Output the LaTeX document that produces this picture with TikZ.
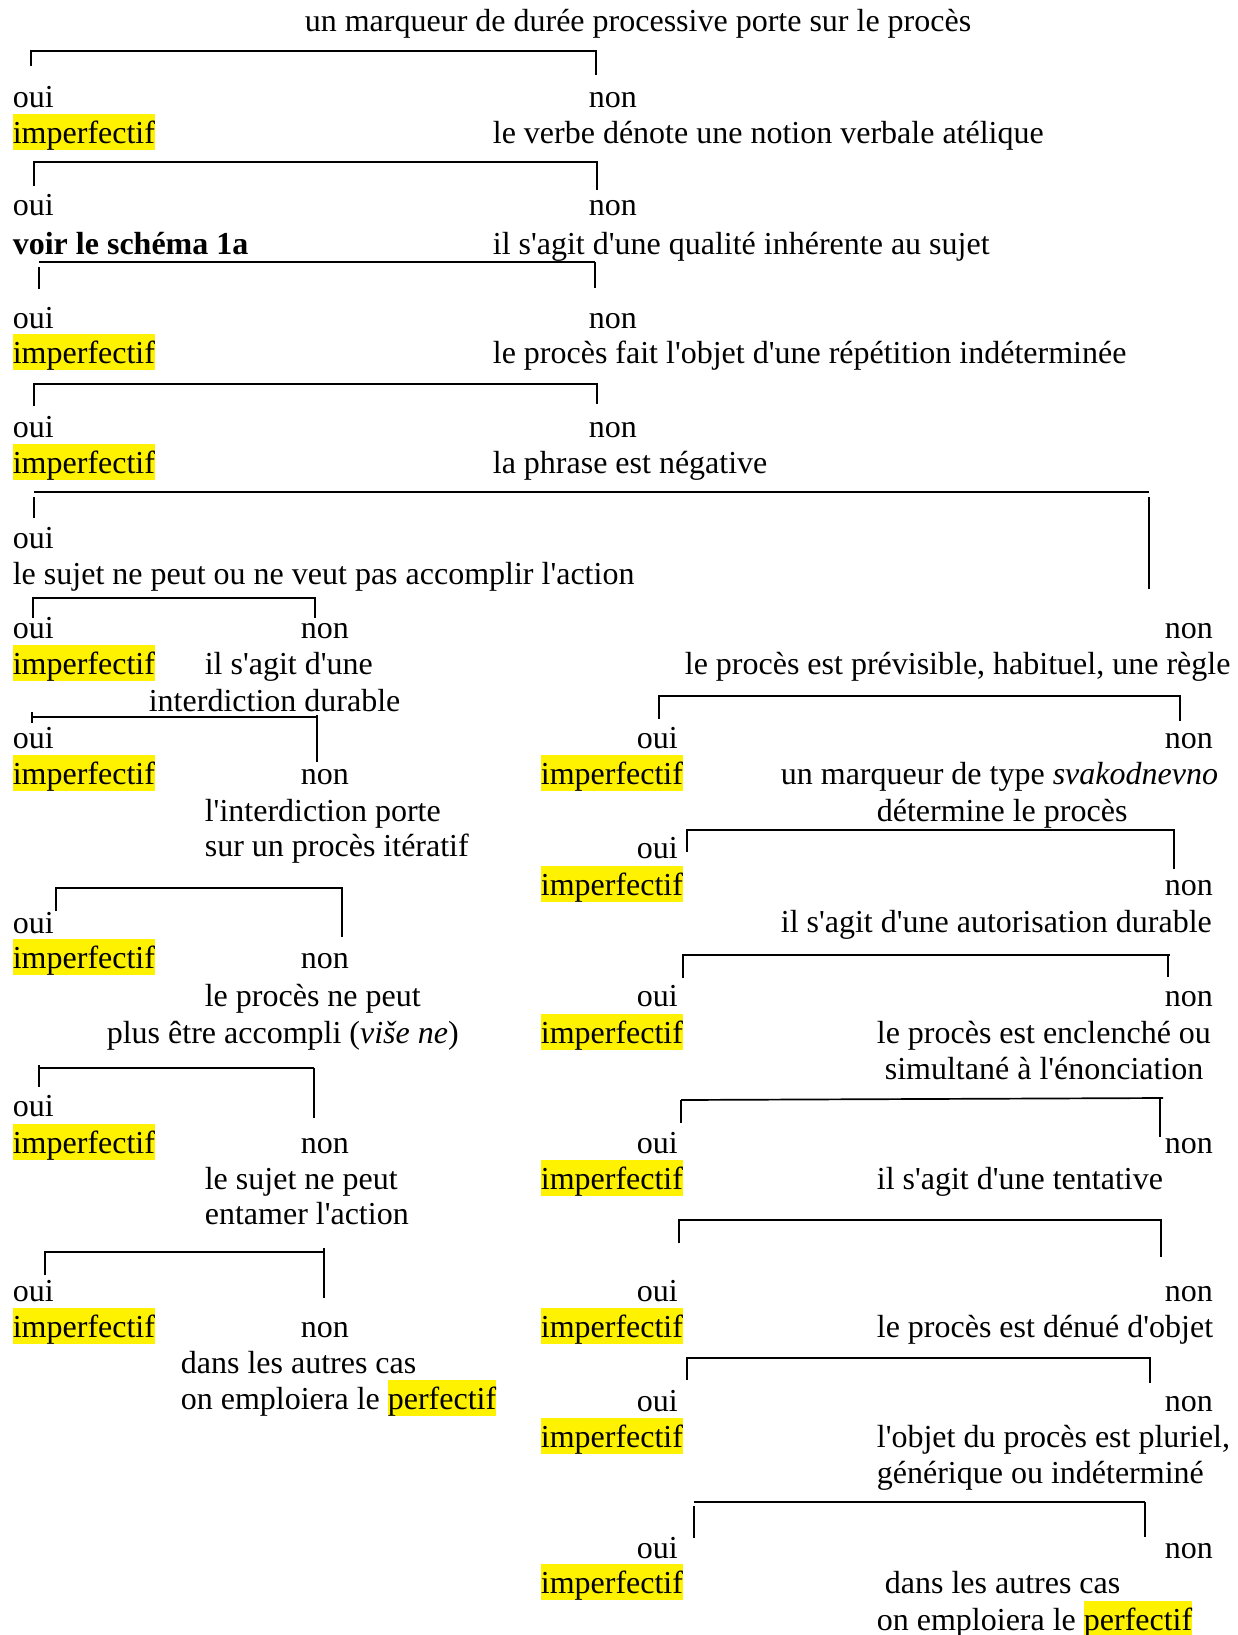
\documentclass[tikz,border=0pt]{standalone}
\usepackage{fontspec}
\setmainfont{Liberation Serif}[Ligatures=TeXOff]
\usepackage{xcolor}
\newcommand{\jaune}[1]{{\setlength{\fboxsep}{0pt}\colorbox{yellow}{\rule[-7pt]{0pt}{35.6pt}#1}}}

\begin{document}
\begin{tikzpicture}[x=1pt,y=-1pt,line width=1.7pt,every node/.style={anchor=base west,inner sep=0pt,font=\fontsize{32}{38}\selectfont}]
\useasboundingbox (0,0) rectangle (1238,1635);

\node[anchor=base] (q1) at (638,32) {un marqueur de durée processive porte sur le procès};
\draw (31,66) -- (31,51) -- (596,51) -- (596,75);
\node (oui1) at (12,108) {oui};
\node (non1) at (588,108) {non};
\node (imp1) at (12,143) {\jaune{imperfectif}};
\node (q2) at (492,143) {le verbe dénote une notion verbale atélique};

\draw (34,186) -- (34,162) -- (597,162) -- (597,190);
\node (oui2) at (12,215) {oui};
\node (non2) at (588,215) {non};
\node (voir) at (12,254) {\textbf{voir le schéma 1a}};
\node (q3) at (492,254) {il s'agit d'une qualité inhérente au sujet};

\draw (39,262) -- (595,262);
\draw (39,267) -- (39,289);
\draw (595,262) -- (595,288);
\node (oui3) at (12,328) {oui};
\node (non3) at (588,328) {non};
\node (imp3) at (12,363) {\jaune{imperfectif}};
\node (q4) at (492,363) {le procès fait l'objet d'une répétition indéterminée};

\draw (34,406) -- (34,384) -- (597,384) -- (597,404);
\node (oui4) at (12,437) {oui};
\node (non4) at (588,437) {non};
\node (imp4) at (12,473) {\jaune{imperfectif}};
\node (q5) at (492,473) {la phrase est négative};

\draw (34,492) -- (1149,492);
\draw (34,497) -- (34,518);
\draw (1149,497) -- (1149,589);
\node (oui5) at (12,548) {oui};
\node (q6) at (12,584) {le sujet ne peut ou ne veut pas accomplir l'action};

\draw (33,618) -- (33,598) -- (315,598) -- (315,618);
\node (oui6) at (12,638) {oui};
\node (non6) at (300,638) {non};
\node (imp6) at (12,674) {\jaune{imperfectif}};
\node (q7a) at (204,674) {il s'agit d'une};
\node (q7b) at (148,711) {interdiction durable};

\draw (32,717) -- (317,717);
\draw (32,712) -- (32,723);
\draw (317,715) -- (317,762);
\node (oui7) at (12,748) {oui};
\node (imp7) at (12,784) {\jaune{imperfectif}};
\node (non7) at (300,784) {non};
\node (q8a) at (204,821) {l'interdiction porte};
\node (q8b) at (204,856) {sur un procès itératif};

\draw (56,911) -- (56,888) -- (342,888) -- (342,937);
\node (oui8) at (12,933) {oui};
\node (imp8) at (12,968) {\jaune{imperfectif}};
\node (non8) at (300,968) {non};
\node (q9a) at (204,1006) {le procès ne peut};
\node (q9b) at (106,1043) {plus être accompli (\textit{više ne})};

\draw (39,1068) -- (314,1068);
\draw (39,1065) -- (39,1087);
\draw (314,1068) -- (314,1118);
\node (oui9) at (12,1116) {oui};
\node (imp9) at (12,1153) {\jaune{imperfectif}};
\node (non9) at (300,1153) {non};
\node (q10a) at (204,1189) {le sujet ne peut};
\node (q10b) at (204,1224) {entamer l'action};

\draw (45,1275) -- (45,1252) -- (324,1252);
\draw (324,1248) -- (324,1298);
\node (oui10) at (12,1301) {oui};
\node (imp10) at (12,1337) {\jaune{imperfectif}};
\node (non10) at (300,1337) {non};
\node (fin1a) at (180,1373) {dans les autres cas};
\node (fin1b) at (180,1409) {on emploiera le \jaune{perfectif}};

\node (non5) at (1164,638) {non};
\node (r1) at (684,674) {le procès est prévisible, habituel, une règle};

\draw (659,719) -- (659,696) -- (1180,696) -- (1180,721);
\node (roui1) at (636,748) {oui};
\node (rnon1) at (1164,748) {non};
\node (rimp1) at (540,784) {\jaune{imperfectif}};
\node (r2a) at (780,784) {un marqueur de type \textit{svakodnevno}};
\node (r2b) at (876,821) {détermine le procès};

\draw (687,852) -- (687,830) -- (1174,830) -- (1174,869);
\node (roui2) at (636,858) {oui};
\node (rimp2) at (540,895) {\jaune{imperfectif}};
\node (rnon2) at (1164,895) {non};
\node (r3) at (780,932) {il s'agit d'une autorisation durable};

\draw (683,978) -- (683,955) -- (1170,955);
\draw (1168,955) -- (1168,977);
\node (roui3) at (636,1006) {oui};
\node (rnon3) at (1164,1006) {non};
\node (rimp3) at (540,1043) {\jaune{imperfectif}};
\node (r4a) at (876,1043) {le procès est enclenché ou};
\node (r4b) at (884,1079) {simultané à l'énonciation};

\draw (681,1100) -- (1163,1098);
\draw (681,1100) -- (681,1123);
\draw (1160,1097) -- (1160,1137);
\node (roui4) at (636,1153) {oui};
\node (rnon4) at (1164,1153) {non};
\node (rimp4) at (540,1189) {\jaune{imperfectif}};
\node (r5) at (876,1189) {il s'agit d'une tentative};

\draw (679,1243) -- (679,1220) -- (1161,1220) -- (1161,1257);
\node (roui5) at (636,1301) {oui};
\node (rnon5) at (1164,1301) {non};
\node (rimp5) at (540,1337) {\jaune{imperfectif}};
\node (r6) at (876,1337) {le procès est dénué d'objet};

\draw (687,1380) -- (687,1358) -- (1150,1358) -- (1150,1383);
\node (roui6) at (636,1411) {oui};
\node (rnon6) at (1164,1411) {non};
\node (rimp6) at (540,1447) {\jaune{imperfectif}};
\node (r7a) at (876,1447) {l'objet du procès est pluriel,};
\node (r7b) at (876,1483) {générique ou indéterminé};

\draw (694,1502) -- (1145,1502);
\draw (694,1506) -- (694,1538);
\draw (1145,1502) -- (1145,1537);
\node (roui7) at (636,1558) {oui};
\node (rnon7) at (1164,1558) {non};
\node (rimp7) at (540,1593) {\jaune{imperfectif}};
\node (fin2a) at (884,1593) {dans les autres cas};
\node (fin2b) at (876,1630) {on emploiera le \jaune{perfectif}};
\end{tikzpicture}
\end{document}
